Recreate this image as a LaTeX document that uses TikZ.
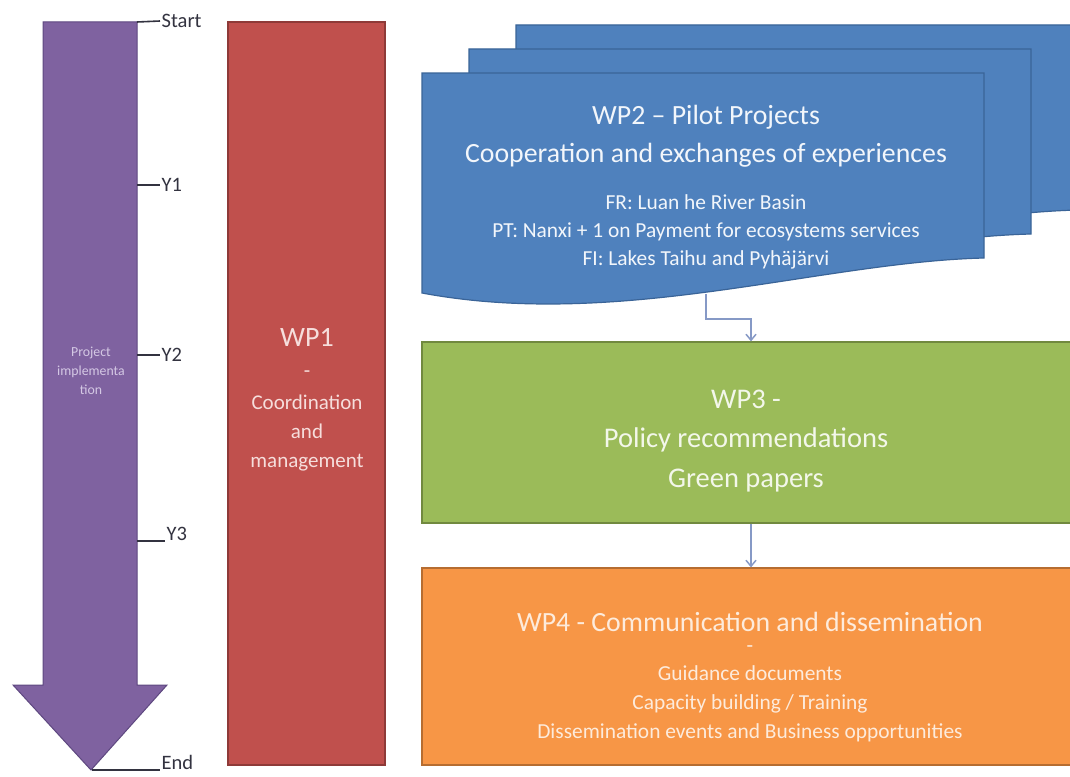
\documentclass[tikz,border=0pt]{standalone}
\usepackage{fontspec}
\setmainfont{Carlito}
\usetikzlibrary{arrows.meta}
\definecolor{purp}{HTML}{7F62A0}
\definecolor{purpd}{HTML}{5E4880}
\definecolor{purpt}{HTML}{D4C8E4}
\definecolor{redb}{HTML}{C0504D}
\definecolor{redd}{HTML}{8E3A38}
\definecolor{redt}{HTML}{F6DEDC}
\definecolor{blu}{HTML}{4F81BD}
\definecolor{blud}{HTML}{3A6498}
\definecolor{blut}{HTML}{F2F6FB}
\definecolor{grn}{HTML}{9BBB59}
\definecolor{grnd}{HTML}{71893F}
\definecolor{grnt}{HTML}{F3F7EA}
\definecolor{org}{HTML}{F79646}
\definecolor{orgd}{HTML}{B66D31}
\definecolor{orgt}{HTML}{FDEBDC}
\definecolor{conn}{HTML}{8699C6}
\definecolor{tickc}{HTML}{333340}
\tikzset{
  wpbox/.style={draw, line width=1.2pt, minimum width=658pt, inner sep=0pt},
  txt/.style={align=center, inner sep=0pt},
  ticklab/.style={anchor=west, inner sep=1.5pt, text=tickc, font=\fontsize{20.5}{22}\selectfont},
  tickline/.style={draw=tickc, line width=1.6pt},
  connector/.style={draw=conn, line width=1.5pt, -{Straight Barb[length=6pt,width=10pt]}},
  docshape/.style={fill=blu, draw=blud, line width=1.2pt}
}
\begin{document}
\begin{tikzpicture}[x=1pt,y=-1pt]
\useasboundingbox (0,0) rectangle (1070,776);
\fill[white] (0,0) rectangle (1070,776);
% timeline arrow
\filldraw[fill=purp, draw=purpd, line width=1pt]
  (43,22) -- (137,22) -- (137,685) -- (167,685) -- (91,770) -- (13,685) -- (43,685) -- cycle;
\node[txt, text=purpt, font=\fontsize{13.8}{19}\selectfont] (impl) at (91,371) {Project\\implementa\\tion};
\coordinate (t0) at (137,22);
\coordinate (t1) at (137,185);
\coordinate (t2) at (137,355);
\coordinate (t3) at (137,541);
\coordinate (t4) at (92,770);
\coordinate (t4e) at (160,770);
\coordinate (t3e) at (165,541);
\node[ticklab] (start) at (160,21) {Start};
\node[ticklab] (y1) at (160,185) {Y1};
\node[ticklab] (y2) at (160,355) {Y2};
\node[ticklab] (y3) at (165,534) {Y3};
\node[ticklab, inner sep=0.5pt] (end) at (161,762) {End};
\draw[tickline] (t0) -- (start.west);
\draw[tickline] (t1) -- (y1.west);
\draw[tickline] (t2) -- (y2.west);
\draw[tickline] (t3) -- (t3e);
\draw[tickline] (t4) -- (t4e);
% WP1
\node[draw=redd, fill=redb, line width=1.2pt, minimum width=157pt, minimum height=743pt, inner sep=0pt] (wp1) at (306.5,393.5) {};
\node[txt, text=redt, font=\fontsize{28}{30}\selectfont] (wp1a) at (307,337) {WP1};
\node[txt, text=redt, font=\fontsize{21}{30}\selectfont] (wp1b) at (307,374) {-};
\node[txt, text=redt, font=\fontsize{21}{29}\selectfont] (wp1c) at (307,433)
  {Coordination\\and\\management};
% WP2 stacked documents
\foreach \dx/\dy in {94/-48, 47/-24, 0/0}{
  \begin{scope}[shift={(\dx,\dy)}]
    \path[docshape] (422,73) -- (984,73) -- (984,258)
      .. controls (820,262) and (620,330) .. (422,293) -- cycle;
  \end{scope}
}
\node[txt, text=blut, font=\fontsize{27.8}{38}\selectfont] (wp2a) at (706,136)
  {WP2 – Pilot Projects\\Cooperation and exchanges of experiences};
\node[txt, text=blut, font=\fontsize{21.4}{28}\selectfont] (wp2b) at (706,232)
  {FR: Luan he River Basin\\PT: Nanxi + 1 on Payment for ecosystems services\\FI: Lakes Taihu and Pyhäjärvi};
\coordinate (d2) at (706,294);
\coordinate (d2e) at (706,319);
% WP3
\node[wpbox, fill=grn, draw=grnd, minimum height=181pt] (wp3) at (751,432.5) {};
\node[txt, text=grnt, font=\fontsize{28.5}{39.5}\selectfont] (wp3t) at (746,441)
  {WP3 -\\Policy recommendations\\Green papers};
% WP4
\node[wpbox, fill=org, draw=orgd, minimum height=197pt] (wp4) at (751,666.5) {};
\node[txt, text=orgt, font=\fontsize{27.8}{30}\selectfont] (wp4a) at (750,622)
  {WP4 - Communication and dissemination};
\node[txt, text=orgt, font=\fontsize{21.4}{29}\selectfont] (wp4b) at (750,649) {-};
\node[txt, text=orgt, font=\fontsize{21.4}{29}\selectfont] (wp4c) at (750,704)
  {Guidance documents\\Capacity building / Training\\Dissemination events and Business opportunities};
% connectors
\draw[connector] (d2) -- (d2e) -| (wp3.north);
\draw[connector] (wp3.south) -- (wp4.north);
\end{tikzpicture}
\end{document}
